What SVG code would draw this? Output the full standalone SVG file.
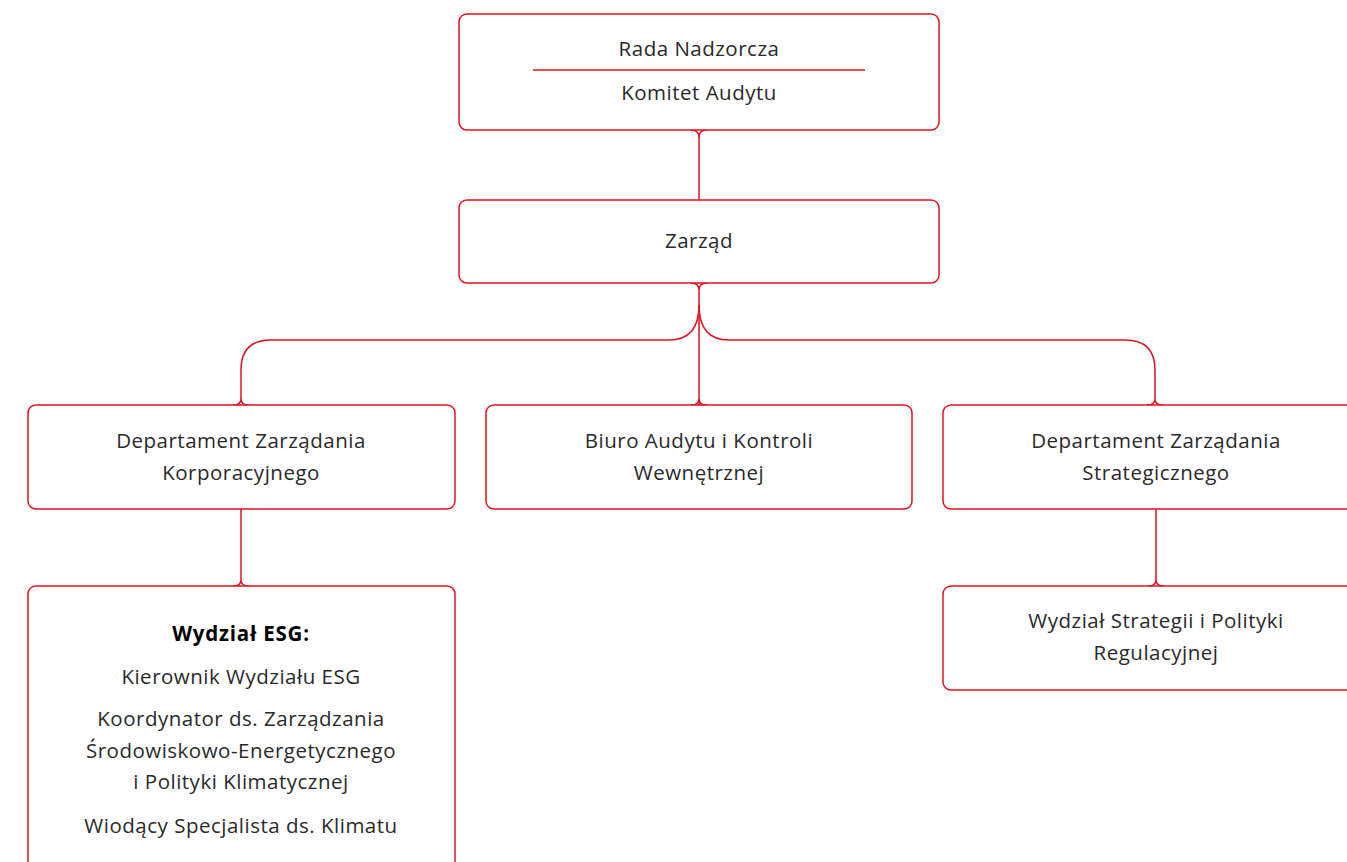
<svg xmlns="http://www.w3.org/2000/svg" width="1347" height="862" viewBox="0 0 1347 862">
<style>
.box{fill:#fff;stroke:#e1121f;stroke-width:1.5}
.con{fill:none;stroke:#e1121f;stroke-width:1.5}
text{font-family:"Open Sans","Liberation Sans",sans-serif;font-size:20.5px;font-weight:400;letter-spacing:0.5px;fill:#2a2a2a;text-anchor:middle;dominant-baseline:central}
.b{font-weight:700;fill:#000;letter-spacing:0.8px}
</style>
<rect width="1347" height="862" fill="#fff"/>
<g id="connectors">
<path class="con" d="M699 136 V200"/>
<path class="con" d="M691 130 Q699 130 699 137 Q699 130 707 130"/>
<path class="con" d="M691 283 Q699 283 699 290 Q699 283 707 283"/>
<path class="con" d="M699 290 V405"/>
<path class="con" d="M699 305 Q699 340 669 340 H271 Q241 340 241 370 V399"/>
<path class="con" d="M699 305 Q699 340 729 340 H1125 Q1155 340 1155 370 V399"/>
<path class="con" d="M233 405 Q241 405 241 399 Q241 405 249 405"/>
<path class="con" d="M691 405 Q699 405 699 399 Q699 405 707 405"/>
<path class="con" d="M1147 405 Q1155 405 1155 399 Q1155 405 1163 405"/>
<path class="con" d="M241 509 V580"/>
<path class="con" d="M233 586 Q241 586 241 580 Q241 586 249 586"/>
<path class="con" d="M1156 509 V580"/>
<path class="con" d="M1148 586 Q1156 586 1156 580 Q1156 586 1164 586"/>
</g>
<g id="rada">
<rect class="box" x="459" y="14" width="480" height="116" rx="8"/>
<text x="699" y="48">Rada Nadzorcza</text>
<line x1="533" y1="70" x2="865" y2="70" stroke="#e1121f" stroke-width="1.5"/>
<text x="699" y="92">Komitet Audytu</text>
</g>
<g id="zarzad">
<rect class="box" x="459" y="200" width="480" height="83" rx="8"/>
<text x="699" y="240">Zarząd</text>
</g>
<g id="dzk">
<rect class="box" x="28" y="405" width="427" height="104" rx="8"/>
<text x="241" y="440">Departament Zarządania</text>
<text x="241" y="472">Korporacyjnego</text>
</g>
<g id="baikw">
<rect class="box" x="486" y="405" width="426" height="104" rx="8"/>
<text x="699" y="440">Biuro Audytu i Kontroli</text>
<text x="699" y="472">Wewnętrznej</text>
</g>
<g id="dzs">
<rect class="box" x="943" y="405" width="427" height="104" rx="8"/>
<text x="1156" y="440">Departament Zarządania</text>
<text x="1156" y="472">Strategicznego</text>
</g>
<g id="esg">
<rect class="box" x="28" y="586" width="427" height="300" rx="8"/>
<text class="b" x="241" y="633">Wydział ESG:</text>
<text x="241" y="676">Kierownik Wydziału ESG</text>
<text x="241" y="718">Koordynator ds. Zarządzania</text>
<text x="241" y="750">Środowiskowo-Energetycznego</text>
<text x="241" y="781">i Polityki Klimatycznej</text>
<text x="241" y="825">Wiodący Specjalista ds. Klimatu</text>
</g>
<g id="wspr">
<rect class="box" x="943" y="586" width="427" height="104" rx="8"/>
<text x="1156" y="620">Wydział Strategii i Polityki</text>
<text x="1156" y="652">Regulacyjnej</text>
</g>
</svg>
